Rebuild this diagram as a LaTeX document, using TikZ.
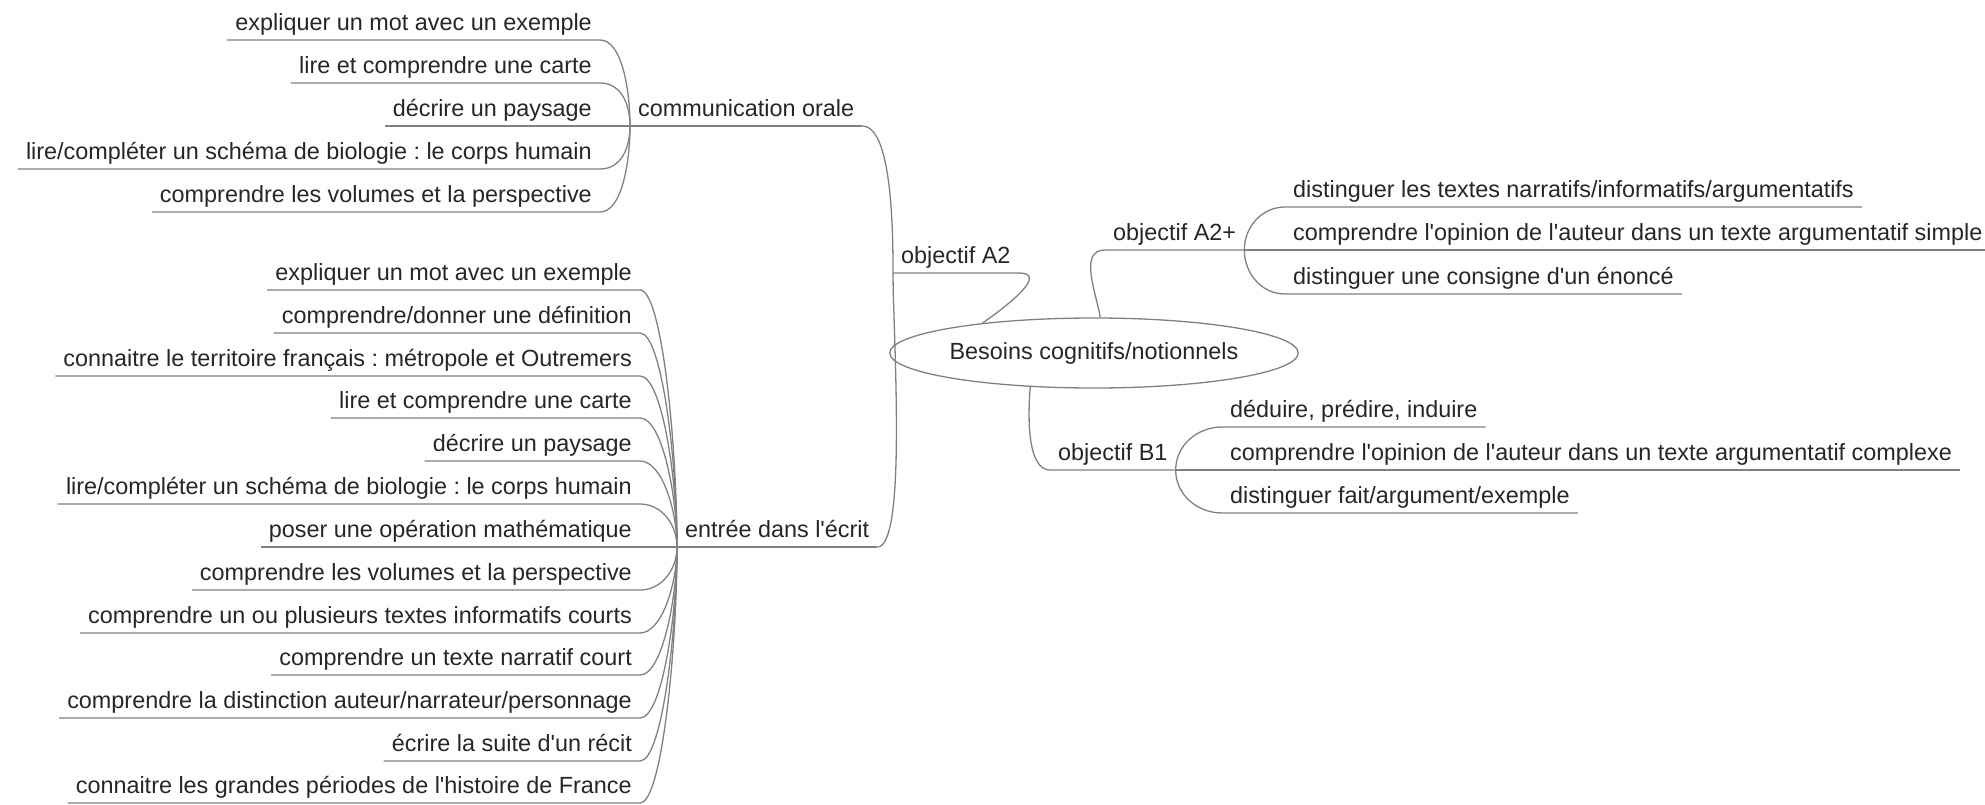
\documentclass[tikz,border=0pt]{standalone}
\usepackage{fontspec}
\newfontfamily\mapfont{Liberation Sans}
\frenchspacing
\usetikzlibrary{shapes.geometric}
\tikzstyle{leaf} = [inner xsep=8pt, inner ysep=4pt, text height=17pt, text depth=5pt,
    font=\mapfont\fontsize{23.4}{28}\selectfont, text=black!85]
\tikzstyle{branch} = [leaf]
\tikzstyle{root} = [ellipse, draw=black!50, line width=1.3pt, minimum width=345pt,
    minimum height=70pt, inner sep=0pt, font=\mapfont\fontsize{23.4}{28}\selectfont, text=black!85]
\tikzstyle{line} = [draw=black!50, line width=1.3pt]
\tikzstyle{up} = [out=90, in=0, in distance=22pt]
\tikzstyle{down} = [out=-90, in=0, in distance=22pt]

\begin{document}
\begin{tikzpicture}[x=1pt,y=1pt]
    \useasboundingbox (0,0) rectangle (1985,-805);
    % Place nodes
    \node [root] (root) at (1094,-353) {Besoins cognitifs/notionnels};
    \node [branch, anchor=south west] (A2) at (893,-273) {objectif A2};
    \node [branch, anchor=south west] (A2p) at (1105,-250) {objectif A2+};
    \node [branch, anchor=south west] (B1) at (1050,-470) {objectif B1};
    \node [branch, anchor=south west] (comm) at (630,-126) {communication orale};
    \node [branch, anchor=south west] (ecrit) at (677,-547) {entrée dans l'écrit};
    % communication orale
    \node [leaf, anchor=south east] (o1) at (600,-40) {expliquer un mot avec un exemple};
    \node [leaf, anchor=south east] (o2) at (600,-83) {lire et comprendre une carte};
    \node [leaf, anchor=south east] (o3) at (600,-126) {décrire un paysage};
    \node [leaf, anchor=south east] (o4) at (600,-169) {lire/compléter un schéma de biologie : le corps humain};
    \node [leaf, anchor=south east] (o5) at (600,-212) {comprendre les volumes et la perspective};
    % entree dans l'ecrit
    \node [leaf, anchor=south east] (e1) at (640,-290) {expliquer un mot avec un exemple};
    \node [leaf, anchor=south east] (e2) at (640,-333) {comprendre/donner une définition};
    \node [leaf, anchor=south east] (e3) at (640,-376) {connaitre le territoire français : métropole et Outremers};
    \node [leaf, anchor=south east] (e4) at (640,-418) {lire et comprendre une carte};
    \node [leaf, anchor=south east] (e5) at (640,-461) {décrire un paysage};
    \node [leaf, anchor=south east] (e6) at (640,-504) {lire/compléter un schéma de biologie : le corps humain};
    \node [leaf, anchor=south east] (e7) at (640,-547) {poser une opération mathématique};
    \node [leaf, anchor=south east] (e8) at (640,-590) {comprendre les volumes et la perspective};
    \node [leaf, anchor=south east] (e9) at (640,-633) {comprendre un ou plusieurs textes informatifs courts};
    \node [leaf, anchor=south east] (e10) at (640,-675) {comprendre un texte narratif court};
    \node [leaf, anchor=south east] (e11) at (640,-718) {comprendre la distinction auteur/narrateur/personnage};
    \node [leaf, anchor=south east] (e12) at (640,-761) {écrire la suite d'un récit};
    \node [leaf, anchor=south east] (e13) at (640,-803) {connaitre les grandes périodes de l'histoire de France};
    % objectif A2+
    \node [leaf, anchor=south west] (p1) at (1285,-207) {distinguer les textes narratifs/informatifs/argumentatifs};
    \node [leaf, anchor=south west] (p2) at (1285,-250) {comprendre l'opinion de l'auteur dans un texte argumentatif simple};
    \node [leaf, anchor=south west] (p3) at (1285,-294) {distinguer une consigne d'un énoncé};
    % objectif B1
    \node [leaf, anchor=south west] (q1) at (1222,-427) {déduire, prédire, induire};
    \node [leaf, anchor=south west] (q2) at (1222,-470) {comprendre l'opinion de l'auteur dans un texte argumentatif complexe};
    \node [leaf, anchor=south west] (q3) at (1222,-513) {distinguer fait/argument/exemple};
    % Draw edges
    \path [line] (A2.south west) -- (A2.south east) .. controls +(25,0) and +(40,28) .. (root.165);
    \path [line] (A2.south west) to[out=90,in=0,out distance=40pt,in distance=30pt] (comm.south east);
    \path [line] (A2.south west) to[out=-90,in=0,out distance=60pt,in distance=30pt] (ecrit.south east);
    \path [line] (root.80) to[out=100,in=180] (A2p.south west) -- (A2p.south east);
    \path [line] (root.208) to[out=-95,in=180,in distance=22pt] (B1.south west) -- (B1.south east);
    % left groups
    \path [line] (comm.south west) to[up] (o1.south east) -- (o1.south west);
    \path [line] (comm.south west) to[up] (o2.south east) -- (o2.south west);
    \path [line] (comm.south east) -- (o3.south east) -- (o3.south west);
    \path [line] (comm.south west) to[down] (o4.south east) -- (o4.south west);
    \path [line] (comm.south west) to[down] (o5.south east) -- (o5.south west);
    \path [line] (ecrit.south west) to[up] (e1.south east) -- (e1.south west);
    \path [line] (ecrit.south west) to[up] (e2.south east) -- (e2.south west);
    \path [line] (ecrit.south west) to[up] (e3.south east) -- (e3.south west);
    \path [line] (ecrit.south west) to[up] (e4.south east) -- (e4.south west);
    \path [line] (ecrit.south west) to[up] (e5.south east) -- (e5.south west);
    \path [line] (ecrit.south west) to[up] (e6.south east) -- (e6.south west);
    \path [line] (ecrit.south east) -- (e7.south east) -- (e7.south west);
    \path [line] (ecrit.south west) to[down] (e8.south east) -- (e8.south west);
    \path [line] (ecrit.south west) to[down] (e9.south east) -- (e9.south west);
    \path [line] (ecrit.south west) to[down] (e10.south east) -- (e10.south west);
    \path [line] (ecrit.south west) to[down] (e11.south east) -- (e11.south west);
    \path [line] (ecrit.south west) to[down] (e12.south east) -- (e12.south west);
    \path [line] (ecrit.south west) to[down] (e13.south east) -- (e13.south west);
    % right groups
    \path [line] (A2p.south east) to[out=90,in=180] (p1.south west) -- (p1.south east);
    \path [line] (A2p.south east) -- (p2.south west) -- (p2.south east);
    \path [line] (A2p.south east) to[out=-90,in=180] (p3.south west) -- (p3.south east);
    \path [line] (B1.south east) to[out=90,in=180] (q1.south west) -- (q1.south east);
    \path [line] (B1.south east) -- (q2.south west) -- (q2.south east);
    \path [line] (B1.south east) to[out=-90,in=180] (q3.south west) -- (q3.south east);
\end{tikzpicture}
\end{document}
